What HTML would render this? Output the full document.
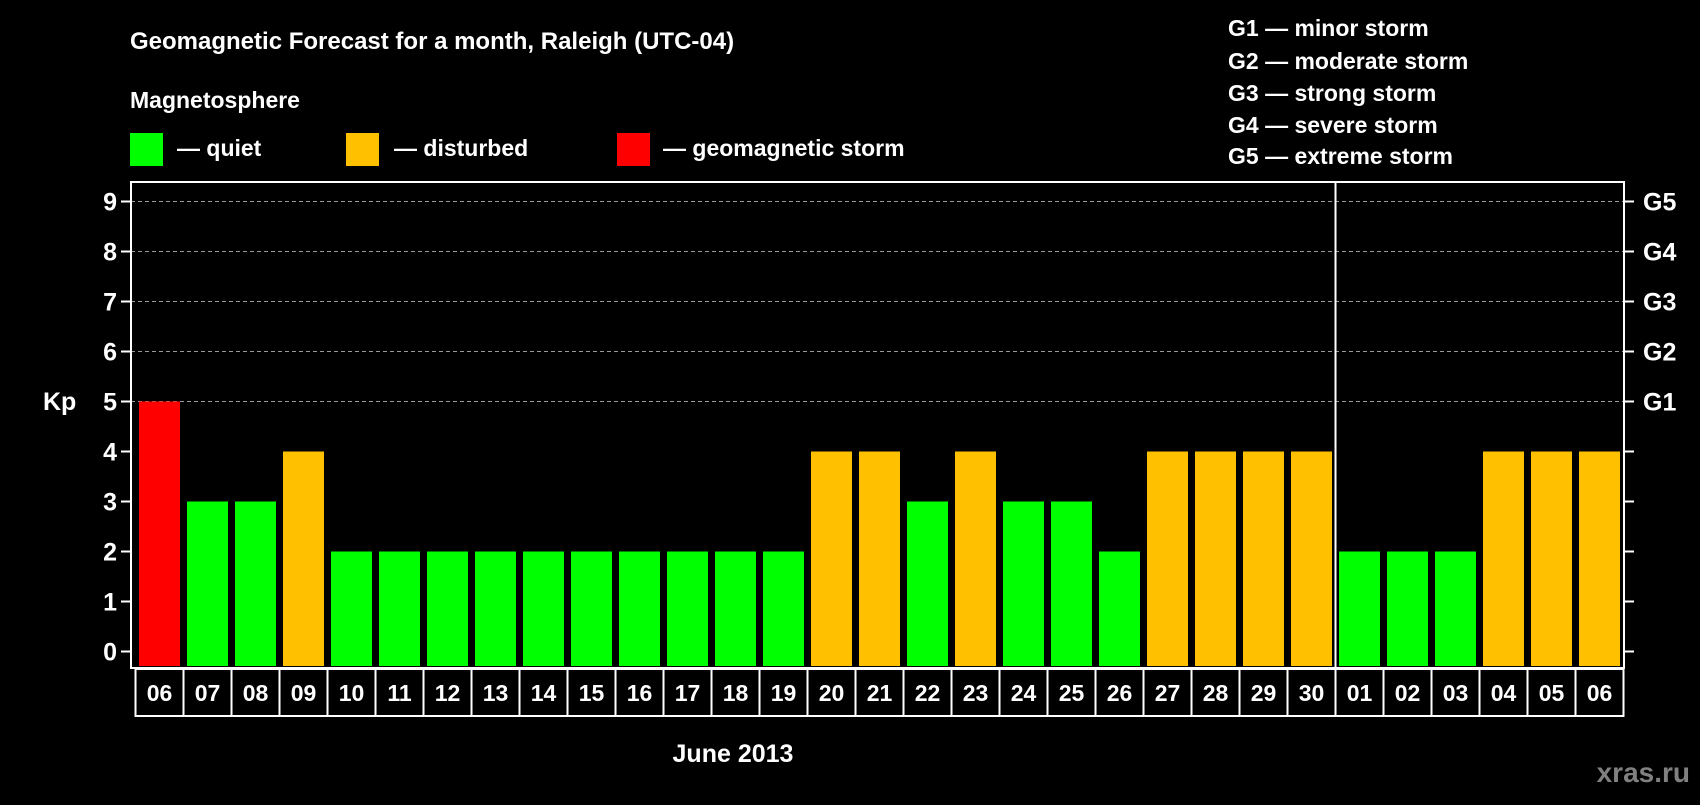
<!DOCTYPE html>
<html><head><meta charset="utf-8"><style>
body{margin:0;background:#000;width:1700px;height:800px;overflow:hidden}
svg text{font-family:"Liberation Sans",Arial,sans-serif;font-weight:bold;fill:#fff}
</style></head><body>
<svg id="c" width="1700" height="800">
<text x="130" y="49" font-size="24">Geomagnetic Forecast for a month, Raleigh (UTC-04)</text>
<text x="130" y="108" font-size="23">Magnetosphere</text>
<rect x="130" y="133" width="33" height="33" fill="#00ff00"/>
<text x="177" y="156" font-size="23">— quiet</text>
<rect x="346" y="133" width="33" height="33" fill="#ffc000"/>
<text x="394" y="156" font-size="23">— disturbed</text>
<rect x="617" y="133" width="33" height="33" fill="#ff0000"/>
<text x="663" y="156" font-size="23">— geomagnetic storm</text>
<g font-size="23">
<text x="1228" y="36">G1 — minor storm</text>
<text x="1228" y="69">G2 — moderate storm</text>
<text x="1228" y="101">G3 — strong storm</text>
<text x="1228" y="133">G4 — severe storm</text>
<text x="1228" y="164">G5 — extreme storm</text>
</g>
<text x="43" y="410" font-size="25">Kp</text>
<text x="733" y="762" font-size="25" text-anchor="middle">June 2013</text>
<text x="1690" y="782" font-size="28" text-anchor="end" style="fill:#808080">xras.ru</text>
<g id="plot"></g>
</svg>
<script>
const dates=["06","07","08","09","10","11","12","13","14","15","16","17","18","19","20","21","22","23","24","25","26","27","28","29","30","01","02","03","04","05","06"];
const kp=[5,3,3,4,2,2,2,2,2,2,2,2,2,2,4,4,3,4,3,3,2,4,4,4,4,2,2,2,4,4,4];
const yTicks=[0,1,2,3,4,5,6,7,8,9];
const gLabels=["G1","G2","G3","G4","G5"];
const gLevels=[5,6,7,8,9];
const monthBreak=25;
const L=131,T=182,R=1624,B=668,Y0=651.5,UNIT=50,X0=135.5,P=48;
const y=v=>Y0-v*UNIT, x=i=>X0+i*P;
const g=document.getElementById('plot'),NS='http://www.w3.org/2000/svg';
function mk(t,a,txt){const e=document.createElementNS(NS,t);for(const k in a)e.setAttribute(k,a[k]);if(txt!=null)e.textContent=txt;g.appendChild(e);return e;}
yTicks.forEach(v=>{
 if(v>=5){const l=mk('line',{x1:L,x2:R,y1:y(v),y2:y(v),stroke:'#999','stroke-dasharray':'4,3','stroke-width':1});
 
 }
 const t1=mk('line',{x1:L-10,x2:L,y1:y(v),y2:y(v),stroke:'#fff','stroke-width':2});
 
 
 const t2=mk('line',{x1:R,x2:R+10,y1:y(v),y2:y(v),stroke:'#fff','stroke-width':2});
 
 
 const tl=mk('text',{x:117,y:y(v)+9,'font-size':25,'text-anchor':'end'},String(v));
 
 
});
gLevels.forEach((v,i)=>{
 const t=mk('text',{x:1643,y:y(v)+9,'font-size':25},gLabels[i]);
 
 
});
kp.forEach((v,i)=>{
 const c=v>=5?'#ff0000':v>=4?'#ffc000':'#00ff00';
 const b=mk('rect',{x:x(i)+3.5,y:y(v),width:41,height:B-2-y(v),fill:c});
 
 
 const cell=mk('rect',{x:x(i),y:B+1,width:P,height:47,fill:'none',stroke:'#fff','stroke-width':2});
 
 
 const t=mk('text',{x:x(i)+P/2,y:B+33,'font-size':23,'text-anchor':'middle'},dates[i]);
 
 
});
const sep=mk('line',{x1:x(monthBreak),x2:x(monthBreak),y1:T,y2:B,stroke:'#fff','stroke-width':2});


const fr=mk('rect',{x:L,y:T,width:R-L,height:B-T,fill:'none',stroke:'#fff','stroke-width':2});


</script>
</body></html>
